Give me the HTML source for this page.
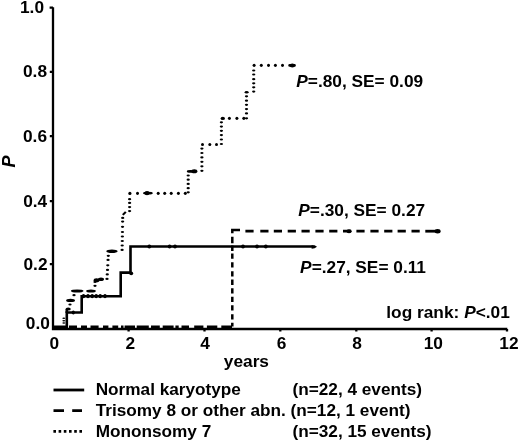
<!DOCTYPE html>
<html><head><meta charset="utf-8">
<style>
html,body{margin:0;padding:0;background:#fff;width:520px;height:442px;overflow:hidden}
svg{display:block;filter:grayscale(1)}
svg{font-family:"Liberation Sans",sans-serif;font-weight:bold;font-size:17.3px}
text{fill:#000}
</style></head><body>
<svg width="520" height="442" viewBox="0 0 520 442">
<g stroke="#000" stroke-width="2.3" fill="none">
<path d="M53 7.3 V329 H507.3"/>
<path d="M49.6 7.6H53 M49.8 71.9H53 M49.8 136.2H53 M49.8 201.2H53 M49.8 264.2H53"/>
<path d="M128.6 329V331.6 M204.5 329V331.6 M280.3 329V331.6 M356.3 329V331.6 M431.6 329V331.6 M507 329V331.6"/>
</g>
<g text-anchor="end">
<text x="44" y="13.2">1.0</text>
<text x="47" y="77">0.8</text>
<text x="47" y="141.8">0.6</text>
<text x="47.2" y="206.8">0.4</text>
<text x="47.5" y="270.3">0.2</text>
<text x="49.8" y="329">0.0</text>
</g>
<text transform="translate(14.6,167.4) rotate(-90)" font-style="italic" font-size="18">P</text>
<g text-anchor="middle">
<text x="54.2" y="349">0</text>
<text x="130.3" y="349">2</text>
<text x="205.1" y="349">4</text>
<text x="281.6" y="349">6</text>
<text x="357.1" y="349">8</text>
<text x="433.3" y="349">10</text>
<text x="508.9" y="349">12</text>
</g>
<text x="223.8" y="366.8">years</text>
<text x="386.3" y="318.2">log rank:</text><text x="464.2" y="318.2"><tspan font-style="italic">P</tspan>&lt;.01</text>
<text x="296.3" y="87"><tspan font-style="italic">P</tspan>=.80, SE= 0.09</text>
<text x="298.3" y="215.6"><tspan font-style="italic">P</tspan>=.30, SE= 0.27</text>
<text x="300.1" y="272.7"><tspan font-style="italic">P</tspan>=.27, SE= 0.11</text>

<g stroke="#000" fill="none">
<path d="M53 326.8H67 M69 326.8H77 M81 326.8H87 M90.5 326.8H98.6 M103 326.8H108.4 M112.4 326.8H118.2 M121 326.8H123.5 M124.6 326.8H135 M136.7 326.8H148.8 M151 326.8H159.8 M162.7 326.8H173.6 M175.4 326.8H178.7 M181.5 326.8H189 M194.2 326.8H203.4 M206.9 326.8H217.3 M221.3 326.8H232" stroke-width="2.5"/>
<path d="M232.3 233.3 V230.1 H240" stroke-width="2.5"/>
<path d="M232.3 236.8V243.3 M232.3 245.6V250.9 M232.3 253.4V258.7 M232.3 262.3V267.6 M232.3 271.2V276.5 M232.3 279.6V284.9 M232.3 288.2V293.5 M232.3 296.8V302.1 M232.3 305.3V310.6 M232.3 314.2V319.5 M232.3 322.8V326.5" stroke-width="2.5"/>
<path d="M245.4 231.2H253.6 M260.3 231.2H268.5 M273.8 231.2H282 M287.7 231.2H295.9 M301.5 231.2H309.7 M315.4 231.2H323.6 M329.2 231.2H337.4 M343 231.2H351.2 M356.4 231.2H364.6 M370.4 231.2H378.6 M384.2 231.2H392.4 M397.6 231.2H405.8 M411.5 231.2H419.7" stroke-width="2.8"/>
<path d="M425.3 231.2 H438" stroke-width="2.8"/>
</g>
<ellipse cx="437.6" cy="231.3" rx="3" ry="2.2"/>
<ellipse cx="349" cy="231.2" rx="2.6" ry="2"/>

<g stroke="#000" stroke-width="2.6" fill="none" stroke-linejoin="miter">
<path d="M53 327.5 H66.8 V312.5 H81.7 V296.2 H120.7 V272.6 H130.5 V246.5 H312"/>
</g>
<g>
<ellipse cx="73.3" cy="312.5" rx="1.6" ry="1.9"/>
<ellipse cx="83.5" cy="296.2" rx="1.7" ry="2.1"/>
<ellipse cx="88" cy="296.2" rx="1.7" ry="2.1"/>
<ellipse cx="92.2" cy="296.2" rx="1.7" ry="2.1"/>
<ellipse cx="96.2" cy="296.2" rx="1.7" ry="2.1"/>
<ellipse cx="100.2" cy="296.2" rx="1.7" ry="2.1"/>
<ellipse cx="105" cy="296.2" rx="1.7" ry="2.1"/>
<ellipse cx="131.2" cy="273.4" rx="2" ry="1.8"/>
<ellipse cx="149.3" cy="246.5" rx="1.9" ry="2.1"/>
<ellipse cx="169.6" cy="246.5" rx="1.9" ry="2.1"/>
<ellipse cx="175" cy="246.5" rx="1.9" ry="2.1"/>
<ellipse cx="243" cy="246.5" rx="1.9" ry="2.1"/>
<ellipse cx="257" cy="246.5" rx="1.9" ry="2.1"/>
<ellipse cx="265.8" cy="246.5" rx="1.9" ry="2.1"/>
<path d="M311.6 244.9 L314.6 245.2 L317 246.7 L314.6 248.3 L311.6 248.7 Z"/>
</g>
<g>
<ellipse cx="63.8" cy="318.2" rx="1.5" ry="0.75"/>
<ellipse cx="63.8" cy="320.7" rx="1.5" ry="0.75"/>
<ellipse cx="63.8" cy="323" rx="1.5" ry="0.75"/>
<ellipse cx="68.2" cy="309" rx="2.6" ry="1.6"/>
<rect x="65.5" y="309" width="2.6" height="4"/>
<ellipse cx="70" cy="304.5" rx="1.65" ry="1.1"/>
<ellipse cx="70.55" cy="300.4" rx="4.45" ry="1.7"/>
<ellipse cx="74" cy="295.2" rx="1.65" ry="1.1"/>
<ellipse cx="77.15" cy="291" rx="6.35" ry="1.6"/>
<ellipse cx="91" cy="291" rx="4.8" ry="1.5"/>
<ellipse cx="95" cy="285.8" rx="1.65" ry="1.1"/>
<ellipse cx="95" cy="282" rx="1.65" ry="1.1"/>
<ellipse cx="96.55" cy="280.2" rx="2.95" ry="2"/>
<ellipse cx="101" cy="279.2" rx="3" ry="1.8"/>
<ellipse cx="107" cy="278.9" rx="1.65" ry="1.1"/>
<ellipse cx="107.26" cy="274.4" rx="1.65" ry="1.1"/>
<ellipse cx="107.52" cy="269.9" rx="1.65" ry="1.1"/>
<ellipse cx="107.78" cy="265.3" rx="1.65" ry="1.1"/>
<ellipse cx="108.04" cy="259.9" rx="1.65" ry="1.1"/>
<ellipse cx="108.3" cy="255.8" rx="1.65" ry="1.1"/>
<ellipse cx="111.95" cy="251.3" rx="5.65" ry="1.8"/>
<ellipse cx="122.1" cy="249.9" rx="1.65" ry="1.1"/>
<ellipse cx="122.19" cy="245.5" rx="1.65" ry="1.1"/>
<ellipse cx="122.27" cy="241" rx="1.65" ry="1.1"/>
<ellipse cx="122.36" cy="236.5" rx="1.65" ry="1.1"/>
<ellipse cx="122.44" cy="232" rx="1.65" ry="1.1"/>
<ellipse cx="122.53" cy="226.8" rx="1.65" ry="1.1"/>
<ellipse cx="122.61" cy="221.6" rx="1.65" ry="1.1"/>
<ellipse cx="122.7" cy="217.9" rx="1.65" ry="1.1"/>
<path d="M122 214.2 L125 211.2 L126.6 212.4 L123.6 215.4 Z"/>
<ellipse cx="129.6" cy="211.1" rx="1.65" ry="1.1"/>
<ellipse cx="129.6" cy="207.1" rx="1.65" ry="1.1"/>
<ellipse cx="129.6" cy="202.9" rx="1.65" ry="1.1"/>
<ellipse cx="129.6" cy="199.2" rx="1.65" ry="1.1"/>
<ellipse cx="129.9" cy="193.4" rx="1.6" ry="1.6"/>
<ellipse cx="137.5" cy="193.3" rx="1.5" ry="1.6"/>
<ellipse cx="158.2" cy="193.3" rx="1.5" ry="1.6"/>
<ellipse cx="164.7" cy="193.3" rx="1.5" ry="1.6"/>
<ellipse cx="171.2" cy="193.3" rx="1.5" ry="1.6"/>
<ellipse cx="178.4" cy="193.3" rx="1.5" ry="1.6"/>
<ellipse cx="185.3" cy="193.3" rx="1.5" ry="1.6"/>
<ellipse cx="147.9" cy="193.2" rx="4.9" ry="1.4"/>
<ellipse cx="147" cy="193.1" rx="2.5" ry="2.2"/>
<ellipse cx="188.2" cy="192.3" rx="1.65" ry="1.1"/>
<ellipse cx="188.2" cy="188.2" rx="1.65" ry="1.1"/>
<ellipse cx="188.2" cy="183.9" rx="1.65" ry="1.1"/>
<ellipse cx="188.2" cy="179.7" rx="1.65" ry="1.1"/>
<ellipse cx="188.2" cy="175.5" rx="1.65" ry="1.1"/>
<ellipse cx="190.4" cy="171.4" rx="3.6" ry="1.3"/>
<ellipse cx="194.3" cy="171.3" rx="3.1" ry="2"/>
<ellipse cx="201.9" cy="170.8" rx="1.65" ry="1.1"/>
<ellipse cx="201.9" cy="166.3" rx="1.65" ry="1.1"/>
<ellipse cx="201.9" cy="161.8" rx="1.65" ry="1.1"/>
<ellipse cx="201.9" cy="157.4" rx="1.65" ry="1.1"/>
<ellipse cx="201.9" cy="153" rx="1.65" ry="1.1"/>
<ellipse cx="201.9" cy="148.6" rx="1.65" ry="1.1"/>
<ellipse cx="202.5" cy="144.5" rx="1.5" ry="1.6"/>
<ellipse cx="209.8" cy="144.5" rx="1.5" ry="1.6"/>
<ellipse cx="216.5" cy="144.5" rx="1.5" ry="1.6"/>
<ellipse cx="221.4" cy="144" rx="1.65" ry="1.1"/>
<ellipse cx="221.4" cy="139.5" rx="1.65" ry="1.1"/>
<ellipse cx="221.4" cy="135.1" rx="1.65" ry="1.1"/>
<ellipse cx="221.4" cy="130.8" rx="1.65" ry="1.1"/>
<ellipse cx="221.4" cy="126.6" rx="1.65" ry="1.1"/>
<ellipse cx="221.4" cy="122.3" rx="1.65" ry="1.1"/>
<ellipse cx="222.8" cy="118.4" rx="2.2" ry="1.7"/>
<ellipse cx="229.4" cy="118.3" rx="1.5" ry="1.6"/>
<ellipse cx="236.9" cy="118.3" rx="1.5" ry="1.6"/>
<ellipse cx="243.8" cy="118.3" rx="1.5" ry="1.6"/>
<ellipse cx="246.5" cy="118.3" rx="1.65" ry="1.1"/>
<ellipse cx="246.5" cy="113.4" rx="1.65" ry="1.1"/>
<ellipse cx="246.5" cy="109.1" rx="1.65" ry="1.1"/>
<ellipse cx="246.5" cy="104.8" rx="1.65" ry="1.1"/>
<ellipse cx="246.5" cy="100.7" rx="1.65" ry="1.1"/>
<ellipse cx="246.5" cy="96.3" rx="1.65" ry="1.1"/>
<ellipse cx="246.6" cy="92.2" rx="2" ry="1.3"/>
<ellipse cx="253.7" cy="91.6" rx="1.65" ry="1.1"/>
<ellipse cx="253.7" cy="87.3" rx="1.65" ry="1.1"/>
<ellipse cx="253.7" cy="83.3" rx="1.65" ry="1.1"/>
<ellipse cx="253.7" cy="79.2" rx="1.65" ry="1.1"/>
<ellipse cx="253.7" cy="74.5" rx="1.65" ry="1.1"/>
<ellipse cx="253.7" cy="70.5" rx="1.65" ry="1.1"/>
<ellipse cx="254.1" cy="65.3" rx="1.5" ry="1.6"/>
<ellipse cx="261.3" cy="65.3" rx="1.5" ry="1.6"/>
<ellipse cx="268.5" cy="65.3" rx="1.5" ry="1.6"/>
<ellipse cx="275.4" cy="65.3" rx="1.5" ry="1.6"/>
<ellipse cx="282.5" cy="65.3" rx="1.5" ry="1.6"/>
<rect x="288.3" y="64" width="7.5" height="2.8" rx="1.3"/>
<ellipse cx="292.3" cy="65.5" rx="2.6" ry="2"/>
</g>

<g stroke="#000" stroke-width="2.8" fill="none">
<path d="M53.5 390 H84.2"/>
<path d="M53.5 410.6 H64 M72.2 410.6 H82"/>
<path d="M53.4 431.3 H83" stroke-dasharray="2.6 2.6"/>
</g>
<g font-size="17.2">
<text x="95.7" y="395.4">Normal karyotype</text>
<text x="95.7" y="416.1">Trisomy 8 or other abn.</text>
<text x="95.7" y="436.9">Mononsomy 7</text>
<text x="292.5" y="395.4">(n=22, 4 events)</text>
<text x="290.6" y="416.1">(n=12, 1 event)</text>
<text x="292.5" y="436.9">(n=32, 15 events)</text>
</g>
</svg>
</body></html>
